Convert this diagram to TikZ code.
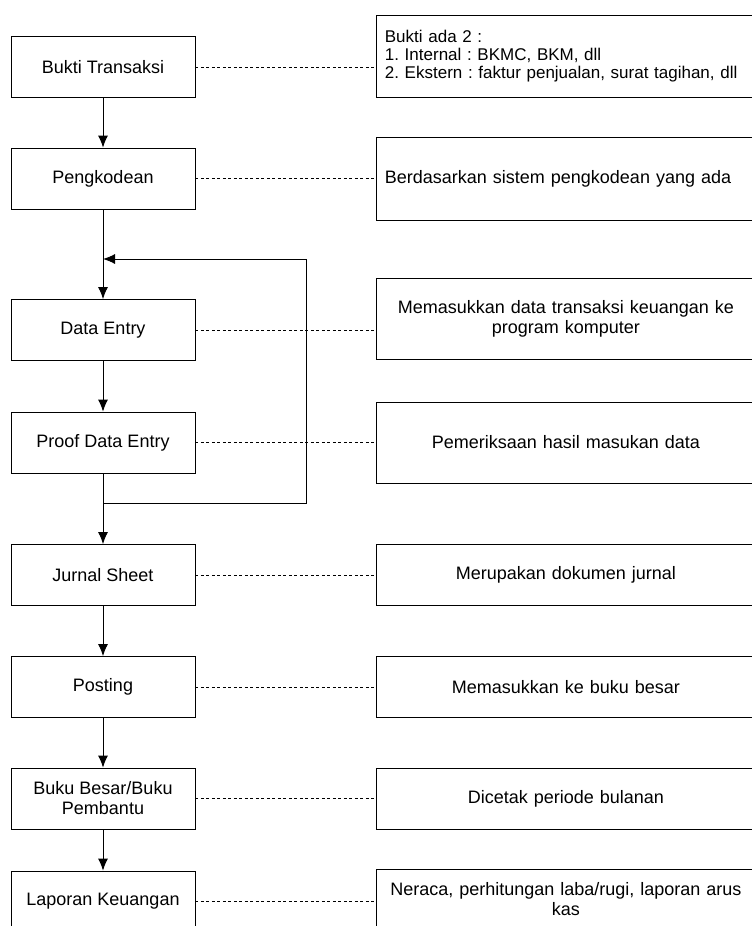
\documentclass[tikz,border=0pt]{standalone}
\usepackage{fontspec}
\setmainfont{Liberation Sans}
\usepackage{tikz}
\usetikzlibrary{arrows.meta}
\usetikzlibrary{shapes,positioning}
\tikzset{>={Latex[length=12pt,width=10pt]},
  stepbox/.style={draw, line width=0.9pt, minimum width=184pt, minimum height=61pt,
    inner sep=3pt, align=center, font=\fontsize{18}{20}\selectfont},
  notebox/.style={draw, line width=0.9pt, text width=362pt, inner sep=8pt,
    minimum height=61pt, font=\fontsize{18}{20}\selectfont},
  dotline/.style={line width=0.8pt, dash pattern=on 3pt off 2.5pt}}
\frenchspacing

\begin{document}
\begin{tikzpicture}[x=1pt,y=-1pt,line width=0.9pt]
    \clip (0,0) rectangle (752,926);
    \fill[white] (0,0) rectangle (752,926);

    \node (a1) [stepbox] at (103,67) {Bukti Transaksi};
    \node (a2) [stepbox] at (103,178.5) {Pengkodean};
    \node (a3) [stepbox] at (103,330) {Data Entry};
    \node (a4) [stepbox] at (103,442.5) {Proof Data Entry};
    \node (a5) [stepbox] at (103,575) {Jurnal Sheet};
    \node (a6) [stepbox] at (103,687) {Posting};
    \node (a7) [stepbox] at (103,798.5) {Buku Besar/Buku\\Pembantu};
    \node (a8) [stepbox] at (103,901.5) {Laporan Keuangan};

    \node (b1) [notebox, text width=380pt, align=left, minimum height=82pt,
      font=\fontsize{17}{18}\selectfont, right=181pt of a1, yshift=11pt]
      {Bukti ada 2 :\\1. Internal : BKMC, BKM, dll\\2. Ekstern : faktur penjualan, surat tagihan, dll};
    \node (b2) [notebox, text width=380pt, align=left, minimum height=83pt, right=181pt of a2]
      {Berdasarkan sistem pengkodean yang ada};
    \node (b3) [notebox, align=center, minimum height=81pt, right=181pt of a3, yshift=11.5pt]
      {Memasukkan data transaksi keuangan ke\\program komputer};
    \node (b4) [notebox, align=center, minimum height=81pt, right=181pt of a4]
      {Pemeriksaan hasil masukan data};
    \node (b5) [notebox, align=center, right=181pt of a5] {Merupakan dokumen jurnal};
    \node (b6) [notebox, align=center, right=181pt of a6] {Memasukkan ke buku besar};
    \node (b7) [notebox, align=center, right=181pt of a7] {Dicetak periode bulanan};
    \node (b8) [notebox, align=center, right=181pt of a8, yshift=2pt]
      {Neraca, perhitungan laba/rugi, laporan arus\\kas};

    % alur utama
    \path[->] (a1) edge (a2);
    \path[->] (a2) edge (a3);
    \path[->] (a3) edge (a4);
    \path[->] (a4) edge (a5);
    \path[->] (a5) edge (a6);
    \path[->] (a6) edge (a7);
    \path[->] (a7) edge (a8);

    % kembali ke data entry
    \coordinate (lp1) at (103,503);
    \coordinate (lp2) at (306,503);
    \coordinate (lp3) at (306,259);
    \coordinate (lp4) at (103,259);
    \draw[->] (lp1) -- (lp2) -- (lp3) -- (lp4);

    % keterangan
    \draw[dotline] (a1) -- (a1 -| b1.west);
    \draw[dotline] (a2) -- (a2 -| b2.west);
    \draw[dotline] (a3) -- (a3 -| b3.west);
    \draw[dotline] (a4) -- (a4 -| b4.west);
    \draw[dotline] (a5) -- (b5);
    \draw[dotline] (a6) -- (b6);
    \draw[dotline] (a7) -- (b7);
    \draw[dotline] (a8) -- (a8 -| b8.west);
  \end{tikzpicture}
\end{document}
